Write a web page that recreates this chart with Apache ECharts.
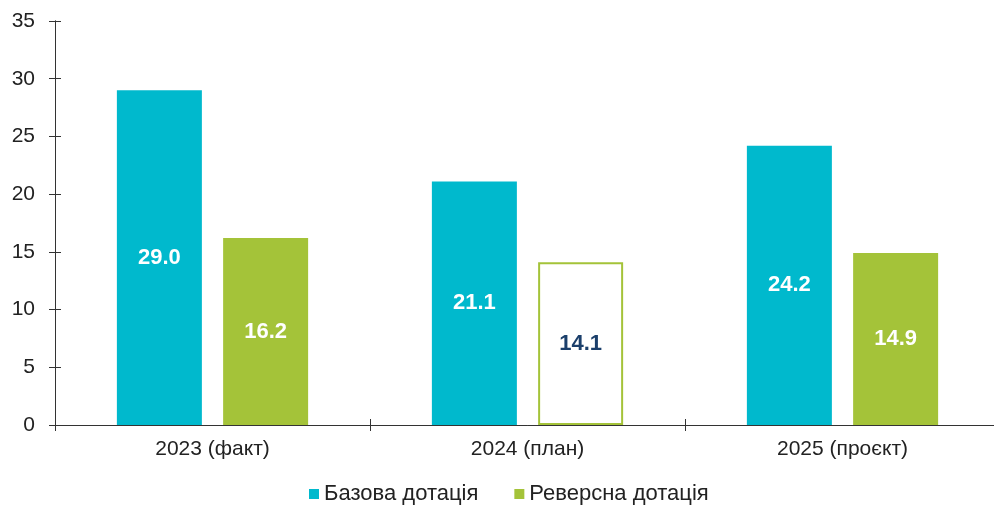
<!DOCTYPE html>
<html lang="uk">
<head>
    <meta charset="UTF-8">
    <title>Дотації</title>
    <script src="https://cdn.jsdelivr.net/npm/echarts@6/dist/echarts.min.js"></script>
    <style>
        body{
            margin: 0;
            background: #fff;
            overflow: hidden;
        }
        #chart{
            width: 1000px;
            height: 506px;
        }
    </style>
</head>
<body>
<div id="chart"></div>
<script>
    // дані
    var categories = ['2023 (факт)', '2024 (план)', '2025 (проєкт)'];
    var baseValues = [29.0, 21.1, 24.2];
    var reverseValues = [16.2, 14.1, 14.9];
    var yTicks = [0, 35, 5]; // min, max, interval
    var hollowIndex = 1; // план - порожній стовпчик

    var teal = '#00B9CD';
    var green = '#A4C339';
    var font = 'Liberation Sans, Arial, sans-serif';

    var reverseData = [];
    for (var i = 0; i < reverseValues.length; i++) {
        if (i === hollowIndex) {
            reverseData.push({
                value: reverseValues[i],
                itemStyle: {color: '#fff', borderColor: green, borderWidth: 2},
                label: {color: '#1B3F6B'}
            });
        } else {
            reverseData.push(reverseValues[i]);
        }
    }

    var myChart = echarts.init(document.getElementById('chart'));
    var lineCol = {color: '#333', width: 1};
    var valueLabel = {
        show: true,
        position: 'inside',
        color: '#fff',
        fontFamily: font,
        fontSize: 22,
        fontWeight: 'bold',
        formatter: function (p) { return p.value.toFixed(1); }
    };
    myChart.setOption({
        animation: false,
        grid: {left: 55, top: 21, right: 0, bottom: 81},
        legend: {
            bottom: -4,
            left: 304,
            itemWidth: 10,
            itemHeight: 10,
            itemGap: 36,
            icon: 'rect',
            textStyle: {fontFamily: font, fontSize: 22, color: '#222'},
            data: ['Базова дотація', 'Реверсна дотація']
        },
        xAxis: [{
            type: 'category',
            data: categories,
            axisLine: {lineStyle: lineCol},
            axisTick: {show: true, length: 6, lineStyle: lineCol},
            axisLabel: {fontFamily: font, fontSize: 21, color: '#222', margin: 14}
        }, {
            // другий набір рисок всередину, щоб риски перетинали вісь
            type: 'category',
            data: categories,
            position: 'bottom',
            axisLine: {show: true, lineStyle: lineCol},
            axisTick: {show: true, inside: true, length: 6, lineStyle: lineCol},
            axisLabel: {show: false}
        }],
        yAxis: [{
            type: 'value',
            min: yTicks[0],
            max: yTicks[1],
            interval: yTicks[2],
            splitLine: {show: false},
            axisLine: {show: true, lineStyle: lineCol},
            axisTick: {show: true, length: 6, lineStyle: lineCol},
            axisLabel: {fontFamily: font, fontSize: 21, color: '#222', margin: 20}
        }, {
            type: 'value',
            min: yTicks[0],
            max: yTicks[1],
            interval: yTicks[2],
            position: 'left',
            splitLine: {show: false},
            axisLine: {show: true, lineStyle: lineCol},
            axisTick: {show: true, inside: true, length: 6, lineStyle: lineCol},
            axisLabel: {show: false}
        }],
        series: [{
            name: 'Базова дотація',
            type: 'bar',
            data: baseValues,
            barWidth: 85,
            barGap: '25%',
            itemStyle: {color: teal},
            label: valueLabel
        }, {
            name: 'Реверсна дотація',
            type: 'bar',
            data: reverseData,
            barWidth: 85,
            itemStyle: {color: green},
            label: valueLabel
        }, {
            // невидима серія, щоб відмалювались другі осі
            name: 'ticks',
            type: 'line',
            xAxisIndex: 1,
            yAxisIndex: 1,
            data: baseValues,
            showSymbol: false,
            lineStyle: {opacity: 0},
            silent: true,
            z: 0
        }]
    });
</script>
</body>
</html>
